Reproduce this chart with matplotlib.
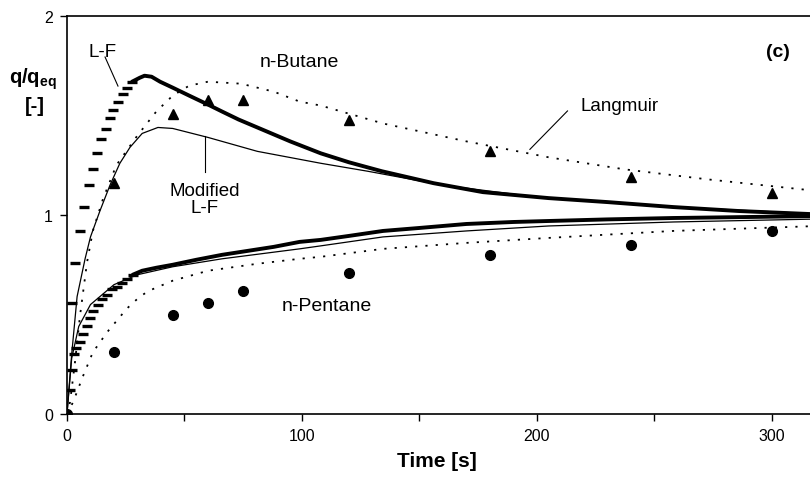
import matplotlib
matplotlib.use("Agg")
import matplotlib.pyplot as plt

plt.rcParams['font.family'] = ['Liberation Sans', 'DejaVu Sans']
plt.rcParams['mathtext.fontset'] = 'custom'
plt.rcParams['mathtext.bf'] = 'Liberation Sans:bold'
plt.rcParams['mathtext.rm'] = 'Liberation Sans'

# n-Butane, L-F model (steep part drawn as dashes, rest as thick line)
bu_lf_dash_t = [0, 2.1, 3.4, 5.5, 7.2, 9.4, 11.0, 12.7, 14.5, 16.6, 18.3, 19.6, 21.7, 23.8, 25.5, 27.7]
bu_lf_dash_q = [0, 0.56, 0.76, 0.92, 1.04, 1.15, 1.23, 1.31, 1.38, 1.43, 1.49, 1.53, 1.57, 1.61, 1.64, 1.67]
bu_lf_t = [27.7, 31, 33, 36, 39.6, 45, 52, 60, 66, 73, 81, 88, 95, 108, 120, 134, 156, 177, 205, 230, 258, 286, 320]
bu_lf_q = [1.67, 1.69, 1.70, 1.695, 1.67, 1.64, 1.60, 1.555, 1.52, 1.48, 1.44, 1.405, 1.37, 1.31, 1.265, 1.22, 1.16, 1.115, 1.085, 1.065, 1.04, 1.02, 1.003]

# n-Pentane, L-F model
pe_lf_dash_t = [0, 1.2, 2.1, 2.8, 4.0, 5.5, 6.8, 8.5, 9.8, 11.1, 13.2, 14.9, 17, 19, 21.3, 23.4, 25.5, 28]
pe_lf_dash_q = [0, 0.12, 0.22, 0.30, 0.33, 0.36, 0.40, 0.44, 0.48, 0.52, 0.55, 0.58, 0.60, 0.63, 0.64, 0.66, 0.68, 0.70]
pe_lf_t = [28, 32, 38, 45, 55, 66, 77, 88, 99, 108, 120, 134.5, 150, 170, 190, 205, 230, 258, 290, 320]
pe_lf_q = [0.70, 0.72, 0.735, 0.75, 0.775, 0.80, 0.82, 0.84, 0.865, 0.875, 0.895, 0.92, 0.935, 0.955, 0.965, 0.97, 0.978, 0.985, 0.99, 0.995]

# Modified L-F model
bu_mod_t = [0, 2, 4.3, 7.7, 10, 14, 18.3, 22.5, 26.8, 32, 38.7, 45, 60, 81, 99, 108, 128, 160, 200, 250, 320]
bu_mod_q = [0, 0.30, 0.59, 0.78, 0.89, 1.02, 1.15, 1.26, 1.34, 1.41, 1.44, 1.435, 1.39, 1.32, 1.28, 1.26, 1.22, 1.15, 1.09, 1.045, 1.005]
pe_mod_t = [0, 2, 5, 10, 20, 30, 45, 66, 99, 108, 134.5, 170, 205, 258, 320]
pe_mod_q = [0, 0.28, 0.44, 0.55, 0.65, 0.70, 0.74, 0.78, 0.83, 0.845, 0.89, 0.92, 0.945, 0.965, 0.98]

# Langmuir model
bu_lang_t = [0, 1.3, 3.4, 5.5, 8.5, 11, 15.3, 21, 30, 38, 45, 52, 60, 74, 88, 99, 108, 134.5, 170, 205, 237, 272, 320]
bu_lang_q = [0, 0.06, 0.26, 0.49, 0.76, 0.92, 1.08, 1.25, 1.40, 1.52, 1.60, 1.65, 1.67, 1.66, 1.62, 1.57, 1.55, 1.46, 1.37, 1.29, 1.23, 1.18, 1.12]
pe_lang_t = [0, 2.6, 6.8, 11, 17, 25.5, 31, 35, 45, 60, 81, 99, 108, 134.5, 170, 205, 258, 320]
pe_lang_q = [0, 0.06, 0.19, 0.31, 0.41, 0.53, 0.59, 0.62, 0.67, 0.72, 0.755, 0.78, 0.79, 0.83, 0.86, 0.885, 0.92, 0.945]

# Experimental points
bu_exp_t = [20, 45, 60, 75, 120, 180, 240, 300]
bu_exp_q = [1.16, 1.51, 1.58, 1.58, 1.48, 1.32, 1.19, 1.11]
pe_exp_t = [0, 20, 45, 60, 75, 120, 180, 240, 300]
pe_exp_q = [0, 0.31, 0.50, 0.56, 0.62, 0.71, 0.80, 0.85, 0.92]

fig = plt.figure(figsize=(8.1, 4.85), dpi=100)
ax = fig.add_axes([0.0827, 0.1443, 0.9173, 0.8206])

dotted = (0, (1.2, 4.5))
for t, q in [(bu_lang_t, bu_lang_q), (pe_lang_t, pe_lang_q)]:
    ax.plot(t, q, color='black', lw=1.3, linestyle=dotted)
for t, q in [(bu_mod_t, bu_mod_q), (pe_mod_t, pe_mod_q)]:
    ax.plot(t, q, color='black', lw=0.9)
for t, q in [(bu_lf_t, bu_lf_q), (pe_lf_t, pe_lf_q)]:
    ax.plot(t, q, color='black', lw=2.8, solid_capstyle='round')
for t, q in [(bu_lf_dash_t, bu_lf_dash_q), (pe_lf_dash_t, pe_lf_dash_q)]:
    ax.plot(t, q, linestyle='none', marker='_', color='black', markersize=7, markeredgewidth=2.4)

ax.plot(bu_exp_t, bu_exp_q, linestyle='none', marker='^', color='black', markersize=7)
ax.plot(pe_exp_t, pe_exp_q, linestyle='none', marker='o', color='black', markersize=7)

ax.set_xlim(0, 316.2)
ax.set_ylim(0, 2)
ax.set_xticks([0, 50, 100, 150, 200, 250, 300])
ax.set_xticklabels(['0', '', '100', '', '200', '', '300'])
ax.set_yticks([0, 1, 2])
ax.tick_params(direction='out', length=5, width=1, labelsize=11.5, pad=5)
ax.spines['right'].set_visible(False)
for s in ['left', 'bottom', 'top']:
    ax.spines[s].set_linewidth(1.2)

# annotations
fs = 13.5
ax.text(15.3, 1.824, 'L-F', fontsize=fs, ha='center', va='center')
ax.plot([16.2, 21.7], [1.794, 1.648], color='black', lw=0.8)
ax.text(99, 1.77, 'n-Butane', fontsize=fs + 0.5, ha='center', va='center')
ax.text(302.5, 1.82, '(c)', fontsize=14, fontweight='bold', ha='center', va='center')
ax.text(235, 1.55, 'Langmuir', fontsize=fs, ha='center', va='center')
ax.plot([213, 197], [1.523, 1.33], color='black', lw=0.8)
ax.text(58.7, 1.08, 'Modified\nL-F', fontsize=fs, ha='center', va='center', linespacing=1.0)
ax.plot([58.7, 58.7], [1.397, 1.216], color='black', lw=0.8)
ax.text(110.6, 0.543, 'n-Pentane', fontsize=fs + 0.5, ha='center', va='center')

fig.text(33 / 810, 1 - 79 / 485, r'$\mathbf{q/q_{eq}}$', fontsize=14.5, ha='center', va='center')
fig.text(35 / 810, 1 - 106 / 485, '[-]', fontsize=14.5, fontweight='bold', ha='center', va='center')
fig.text(437 / 810, 1 - 462 / 485, 'Time [s]', fontsize=15, fontweight='bold', ha='center', va='center')

fig.savefig('out.png', dpi=100)
